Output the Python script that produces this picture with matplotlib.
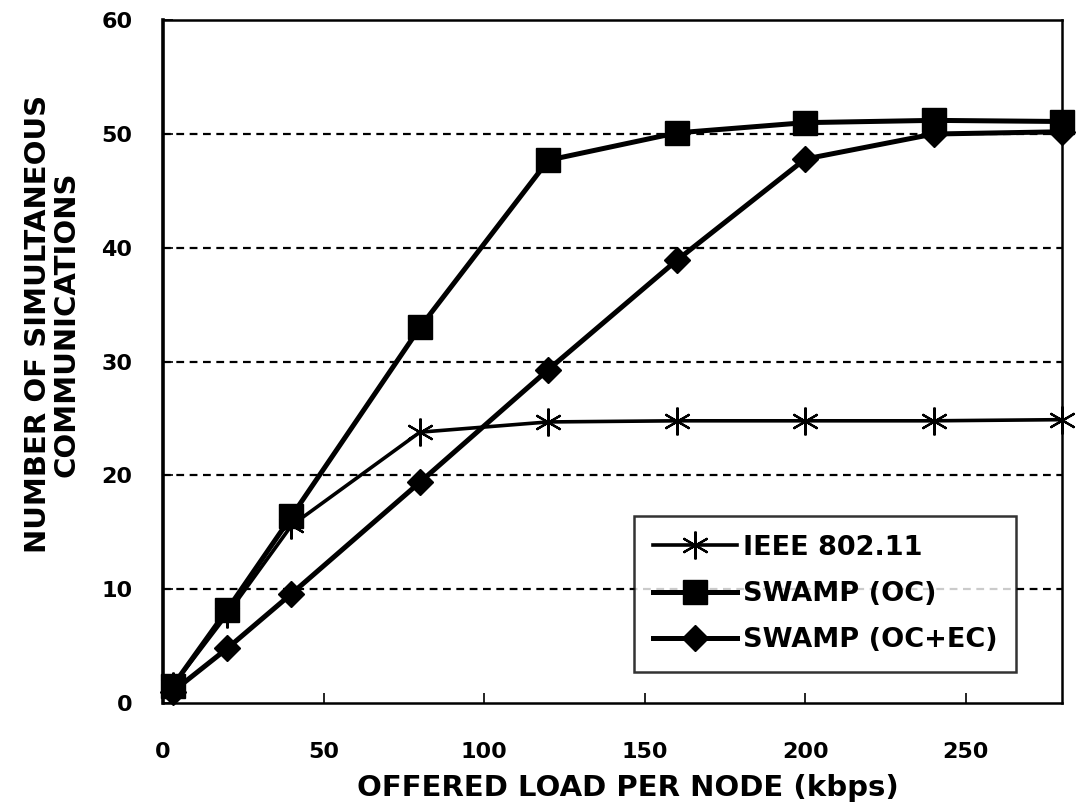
#!/usr/bin/env python3
import matplotlib
matplotlib.use('Agg')
import matplotlib.pyplot as plt

# offered load per node (kbps)
load_kbps = [3, 20, 40, 80, 120, 160, 200, 240, 280]

# number of simultaneous communications
ieee_80211 = [1.5, 7.8, 15.6, 23.8, 24.7, 24.8, 24.8, 24.8, 24.9]
swamp_oc = [1.5, 8.2, 16.4, 33.0, 47.7, 50.1, 51.0, 51.2, 51.1]
swamp_oc_ec = [1.0, 4.8, 9.6, 19.4, 29.3, 38.9, 47.8, 50.0, 50.2]

series_names = ['IEEE 802.11', 'SWAMP (OC)', 'SWAMP (OC+EC)']
x_ticks = [0, 50, 100, 150, 200, 250]
y_ticks = [0, 10, 20, 30, 40, 50, 60]


def main():
    plt.rcParams['font.family'] = ['DejaVu Sans']
    plt.rcParams['font.weight'] = 'bold'

    fig = plt.figure(figsize=(10.87, 8.09), dpi=100)
    ax = fig.add_axes([0.150, 0.131, 0.977 - 0.150, 0.975 - 0.131])

    # horizontal dashed grid
    for yv in y_ticks[1:-1]:
        ax.axhline(yv, color='black', lw=1.6, ls=(0, (3.5, 2.5)), zorder=1)

    ax.plot(load_kbps, ieee_80211, color='black', lw=2.6,
            marker=(6, 2, 0), markersize=20, markeredgewidth=1.6,
            label=series_names[0], zorder=3, clip_on=False)
    ax.plot(load_kbps, swamp_oc, color='black', lw=3.6,
            marker='s', markersize=17, label=series_names[1],
            zorder=4, clip_on=False)
    ax.plot(load_kbps, swamp_oc_ec, color='black', lw=3.6,
            marker='D', markersize=13, label=series_names[2],
            zorder=4, clip_on=False)

    ax.set_xlim(0, 280)
    ax.set_ylim(0, 60)
    ax.set_xticks(x_ticks)
    ax.set_yticks(y_ticks)
    ax.tick_params(axis='both', direction='in', length=7, width=1.2,
                   labelsize=16, color='black')
    ax.tick_params(axis='x', pad=28)
    ax.tick_params(axis='y', pad=22)
    for lbl in ax.get_xticklabels() + ax.get_yticklabels():
        lbl.set_fontweight('bold')

    for side in ['top', 'right', 'bottom']:
        ax.spines[side].set_linewidth(1.8)
    ax.spines['left'].set_linewidth(2.6)

    ax.set_xlabel('OFFERED LOAD PER NODE (kbps)', fontsize=21,
                  fontweight='bold')
    ax.xaxis.set_label_coords(0.517, -0.104)
    ax.set_ylabel('NUMBER OF SIMULTANEOUS\nCOMMUNICATIONS', fontsize=21,
                  fontweight='bold', linespacing=1.0)
    ax.yaxis.set_label_coords(-0.092, 0.555)

    leg = ax.legend(loc='lower right', bbox_to_anchor=(0.949, 0.045),
                    fontsize=19.5, frameon=True, fancybox=False,
                    edgecolor='black', handlelength=3.1, handletextpad=0.2,
                    borderpad=0.7, labelspacing=0.75, numpoints=1,
                    borderaxespad=0)
    leg.get_frame().set_linewidth(1.8)
    for txt in leg.get_texts():
        txt.set_fontweight('bold')

    fig.savefig('out.png', dpi=100)
    return 0


if __name__ == "__main__":
    exit(main())
